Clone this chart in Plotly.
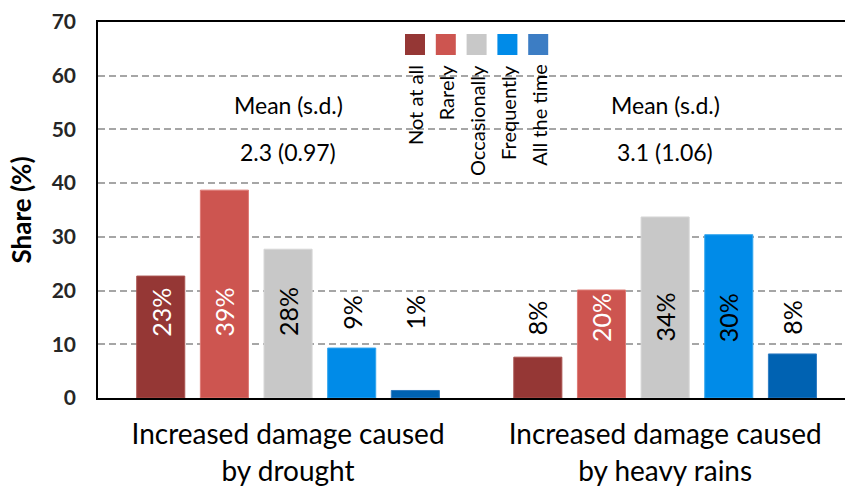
import plotly.graph_objects as go

# --- data -------------------------------------------------------------
categories = [
    "Increased damage caused<br>by drought",
    "Increased damage caused<br>by heavy rains",
]
frequencies = ["Not at all", "Rarely", "Occasionally", "Frequently", "All the time"]

not_at_all = [22.7, 7.6]
rarely = [38.7, 20.1]
occasionally = [27.7, 33.7]
frequently = [9.3, 30.4]
all_the_time = [1.4, 8.2]

mean_sd = ["2.3 (0.97)", "3.1 (1.06)"]
y_ticks = [0, 10, 20, 30, 40, 50, 60, 70]

series = [not_at_all, rarely, occasionally, frequently, all_the_time]

# --- styles -----------------------------------------------------------
bar_colors = ["#953735", "#CD5550", "#C8C8C8", "#008BE8", "#0062B2"]
edge_colors = ["#A9524F", "#DE7A75", "#D6D6D6", "#33A6EE", "#2F7CC2"]
swatch_colors = ["#953735", "#CD5550", "#C8C8C8", "#008BE8", "#3C7DC4"]
dark_bar = [True, True, False, False, False]
label_heights = [16.0, 15.0]

FONT = "Lato, 'Open Sans', sans-serif"
L, T, B, W, H = 98, 22, 88, 845, 486
plot_w = W - L
plot_h = H - T - B

bargap = 0.156
slot = (1 - bargap) / len(frequencies)


def px_x(px):
    return (px - L) / plot_w


def px_y(py):
    return (H - B - py) / plot_h


fig = go.Figure()

for name, vals, col, edge in zip(frequencies, series, bar_colors, edge_colors):
    fig.add_trace(go.Bar(
        name=name, x=categories, y=vals,
        marker=dict(color=col, line=dict(color=edge, width=1)),
        showlegend=False, hoverinfo="skip",
    ))

annotations = []
shapes = []

# value labels, rotated, at a common height per group
for i, vals in enumerate(series):
    for j, v in enumerate(vals):
        inside = v > label_heights[j] + 4
        colour = "white" if (inside and dark_bar[i]) else "black"
        annotations.append(dict(
            x=j + (i - 2) * slot, y=label_heights[j], xref="x", yref="y",
            text=f"{v:.0f}%", textangle=-90, showarrow=False,
            font=dict(family=FONT, size=25, color=colour),
        ))

# mean (s.d.) text above each group
for j, txt in enumerate(mean_sd):
    annotations.append(dict(
        x=j, y=54.5, xref="x", yref="y", text="Mean (s.d.)", showarrow=False,
        font=dict(family=FONT, size=23, color="black"),
    ))
    annotations.append(dict(
        x=j, y=45.8, xref="x", yref="y", text=txt, showarrow=False,
        font=dict(family=FONT, size=23, color="black"),
    ))

# custom legend: white panel, colour squares, vertical labels
shapes.append(dict(
    type="rect", xref="paper", yref="paper", layer="between",
    x0=px_x(397), x1=px_x(561), y0=px_y(196), y1=px_y(25),
    fillcolor="white", line=dict(width=0),
))
for k, (name, col) in enumerate(zip(frequencies, swatch_colors)):
    cx = 415 + k * 30.8
    shapes.append(dict(
        type="rect", xref="paper", yref="paper", layer="above",
        x0=px_x(cx - 10), x1=px_x(cx + 10), y0=px_y(55), y1=px_y(34),
        fillcolor=col, line=dict(width=0),
    ))
    annotations.append(dict(
        x=px_x(cx), y=px_y(63), xref="paper", yref="paper",
        xanchor="center", yanchor="top", text=name, textangle=-90,
        showarrow=False, font=dict(family=FONT, size=20, color="black"),
    ))

fig.update_layout(
    width=W, height=H,
    margin=dict(l=L, r=0, t=T, b=B),
    paper_bgcolor="white", plot_bgcolor="white",
    barmode="group", bargap=bargap, bargroupgap=0.245,
    annotations=annotations, shapes=shapes,
    font=dict(family=FONT, color="black"),
)
fig.update_xaxes(
    type="category", range=[-0.504, 1.477],
    showline=True, linecolor="black", linewidth=1.5, mirror=True,
    showgrid=False, ticks="", ticklabelstandoff=11,
    tickfont=dict(family=FONT, size=28, color="black"),
)
fig.update_yaxes(
    range=[0, 70], tickvals=y_ticks,
    showline=True, linecolor="black", linewidth=1.5,
    showgrid=True, gridcolor="#A6A6A6", gridwidth=1.5, griddash="7px,4px",
    zeroline=False, ticks="", ticklabelstandoff=16,
    tickfont=dict(family=FONT, size=21, color="#262626", weight="bold"),
    title=dict(text="<b>Share (%)</b>", standoff=13,
               font=dict(family=FONT, size=26, color="black")),
)

fig.write_html("out.html")
